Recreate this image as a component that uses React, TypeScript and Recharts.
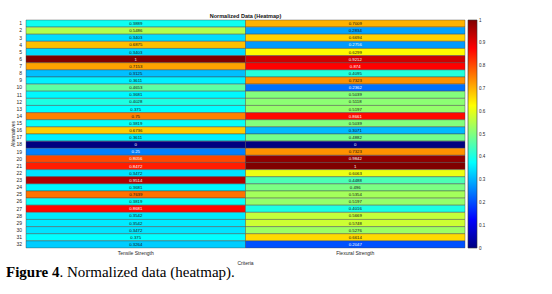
import { Bar, BarChart, Cell, LabelList, XAxis, YAxis } from "recharts"

// alternatives 1..32, two criteria, values as printed in the heatmap cells
const alternatives = [
  "1", "2", "3", "4", "5", "6", "7", "8", "9", "10", "11", "12", "13", "14", "15", "16",
  "17", "18", "19", "20", "21", "22", "23", "24", "25", "26", "27", "28", "29", "30", "31", "32",
]
const criteria = ["Tensile Strength", "Flexural Strength"]
const tensile = [
  0.3889, 0.5486, 0.3403, 0.6875, 0.3403, 1, 0.7153, 0.3125, 0.3611, 0.4653, 0.3681, 0.4028,
  0.375, 0.75, 0.3819, 0.6736, 0.3611, 0, 0.25, 0.8056, 0.8472, 0.3472, 0.9514, 0.3681,
  0.7639, 0.3819, 0.8681, 0.3542, 0.3542, 0.3472, 0.375, 0.3264,
]
const flexural = [
  0.7009, 0.2834, 0.6694, 0.2756, 0.6299, 0.9212, 0.874, 0.4095, 0.7323, 0.2362, 0.5039, 0.5118,
  0.5197, 0.8661, 0.5039, 0.3071, 0.4882, 0, 0.7323, 0.9842, 1, 0.6063, 0.4488, 0.496,
  0.5354, 0.5197, 0.4016, 0.5669, 0.5748, 0.5276, 0.6614, 0.2047,
]
const colorTicks = [0, 0.1, 0.2, 0.3, 0.4, 0.5, 0.6, 0.7, 0.8, 0.9, 1]

const rows = alternatives.map((alt, i) => ({
  alt,
  tensile: tensile[i],
  flexural: flexural[i],
  w1: 1,
  w2: 1,
}))

const FONT = "'Liberation Sans', Arial, sans-serif"

// matlab jet colormap
function jet(v: number) {
  const c = (t: number) => Math.round(255 * Math.max(0, Math.min(1, 1.5 - Math.abs(t))))
  return `rgb(${c(4 * v - 3)},${c(4 * v - 2)},${c(4 * v - 1)})`
}

const jetStops: [number, string][] = [
  [0, "rgb(0,0,128)"],
  [0.125, "rgb(0,0,255)"],
  [0.375, "rgb(0,255,255)"],
  [0.625, "rgb(255,255,0)"],
  [0.875, "rgb(255,0,0)"],
  [1, "rgb(128,0,0)"],
]

const cellLabel = (props: any) => {
  const { x, y, width, height, value } = props
  const v = Number(value)
  const white = v < 0.28 || v > 0.78
  return (
    <text
      x={Number(x) + Number(width) / 2}
      y={Number(y) + Number(height) / 2}
      textAnchor="middle"
      dominantBaseline="central"
      fontSize={4.3}
      fontFamily={FONT}
      fill={white ? "#fff" : "#111"}
    >
      {String(v)}
    </text>
  )
}

export default function App() {
  return (
    <div style={{ position: "absolute", left: 0, top: 0, width: 552, height: 294, background: "#fff" }}>
      <div
        style={{
          position: "absolute",
          left: 26,
          top: 13,
          width: 439,
          textAlign: "center",
          fontFamily: FONT,
          fontWeight: "bold",
          fontSize: 5.5,
          lineHeight: "6px",
          color: "#111",
        }}
      >
        Normalized Data (Heatmap)
      </div>
      <div style={{ position: "absolute", left: 0, top: 0 }}>
        <BarChart
          width={552}
          height={268}
          data={rows}
          layout="vertical"
          barCategoryGap={0}
          barGap={0}
          margin={{ top: 20, right: 87, left: 0, bottom: 0 }}
        >
          <XAxis
            type="number"
            domain={[0, 2]}
            ticks={[0.5, 1.5]}
            tickFormatter={(v: number) => criteria[Math.floor(v)]}
            axisLine={false}
            tickLine={false}
            tickSize={0}
            tickMargin={3}
            height={20}
            tick={{ fontSize: 5, fill: "#262626", fontFamily: FONT }}
            label={{ value: "Criteria", position: "insideBottom", offset: 3, fontSize: 5, fill: "#262626", fontFamily: FONT }}
          />
          <YAxis
            type="category"
            dataKey="alt"
            width={26}
            axisLine={false}
            tickLine={false}
            tickSize={0}
            tickMargin={4}
            interval={0}
            tick={{ fontSize: 5, fill: "#262626", fontFamily: FONT }}
            label={{ value: "Alternatives", angle: -90, position: "center", fontSize: 5, fill: "#262626", fontFamily: FONT }}
          />
          <Bar dataKey="w1" stackId="a" isAnimationActive={false}>
            {rows.map((r, i) => (
              <Cell key={i} fill={jet(r.tensile)} stroke="rgba(70,70,70,0.7)" strokeWidth={0.6} />
            ))}
            <LabelList dataKey="tensile" content={cellLabel} />
          </Bar>
          <Bar dataKey="w2" stackId="a" isAnimationActive={false}>
            {rows.map((r, i) => (
              <Cell key={i} fill={jet(r.flexural)} stroke="rgba(70,70,70,0.7)" strokeWidth={0.6} />
            ))}
            <LabelList dataKey="flexural" content={cellLabel} />
          </Bar>
        </BarChart>
      </div>
      <div style={{ position: "absolute", left: 460, top: 0 }}>
        <BarChart
          width={60}
          height={250}
          data={[{ name: "cb", v: 1 }]}
          barCategoryGap={0}
          margin={{ top: 20, right: 13, left: 8, bottom: 2 }}
        >
          <defs>
            <linearGradient id="jetGrad" x1="0" y1="1" x2="0" y2="0">
              {jetStops.map(([o, c]) => (
                <stop key={o} offset={o} stopColor={c} />
              ))}
            </linearGradient>
          </defs>
          <XAxis dataKey="name" hide />
          <YAxis
            orientation="right"
            type="number"
            domain={[0, 1]}
            ticks={colorTicks}
            interval={0}
            width={30}
            axisLine={false}
            tickLine={false}
            tickSize={0}
            tickMargin={2}
            tickFormatter={(v: number) => String(v)}
            tick={{ fontSize: 4.5, fill: "#262626", fontFamily: FONT, textAnchor: "start" }}
          />
          <Bar dataKey="v" fill="url(#jetGrad)" stroke="#333" strokeWidth={0.6} isAnimationActive={false} />
        </BarChart>
      </div>
      <div
        style={{
          position: "absolute",
          left: 6,
          top: 265,
          fontFamily: "'Liberation Serif', 'Times New Roman', serif",
          fontSize: 15,
          lineHeight: "15px",
          color: "#000",
          whiteSpace: "nowrap",
        }}
      >
        <b>Figure 4</b>. Normalized data (heatmap).
      </div>
    </div>
  )
}
